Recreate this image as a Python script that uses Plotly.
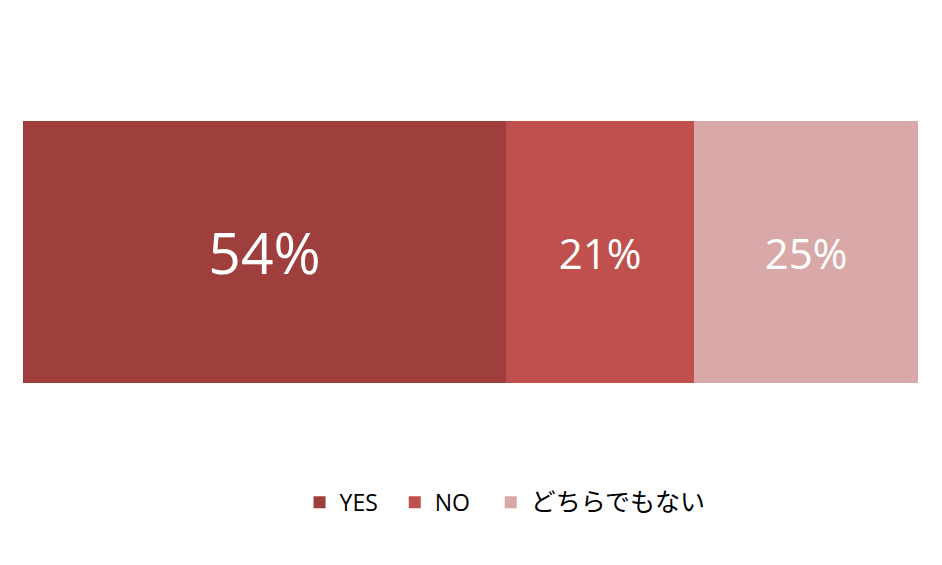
import plotly.graph_objects as go

categories = ["YES", "NO", "どちらでもない"]
values = [54, 21, 25]
colors = ["#9E3F3D", "#C0504D", "#D9A8A8"]
label_sizes = [57, 42, 42]
NB = "\u00a0"
legend_names = ["YES" + NB * 2, "NO" + NB * 2 + "\u2009", "<span style='font-size:25px'>どちらでもない</span>"]

fig = go.Figure()
for name, lname, v, c, s in zip(categories, legend_names, values, colors, label_sizes):
    fig.add_trace(go.Bar(
        y=[""], x=[v], name=lname, orientation="h",
        marker=dict(color=c, line=dict(width=0)),
        text=[f"{v}%"], textposition="inside", insidetextanchor="middle",
        textfont=dict(color="white", size=s, family="Open Sans, Noto Sans CJK JP"),
        hoverinfo="skip",
    ))

fig.update_layout(
    barmode="stack", bargap=0,
    width=942, height=565,
    margin=dict(l=15, r=32, t=113, b=190),
    paper_bgcolor="white", plot_bgcolor="white",
    xaxis=dict(range=[0, 100], visible=False, fixedrange=True),
    yaxis=dict(range=[-0.5, 0.5], visible=False, fixedrange=True),
    showlegend=True,
    legend=dict(orientation="h", x=0.309, xanchor="left", y=-0.455, yanchor="middle",
                font=dict(size=23, family="Open Sans, Noto Sans CJK JP", color="black"),
                itemwidth=30, traceorder="normal"),
    font=dict(family="Open Sans, Noto Sans CJK JP"),
)
fig.write_html("out.html")
